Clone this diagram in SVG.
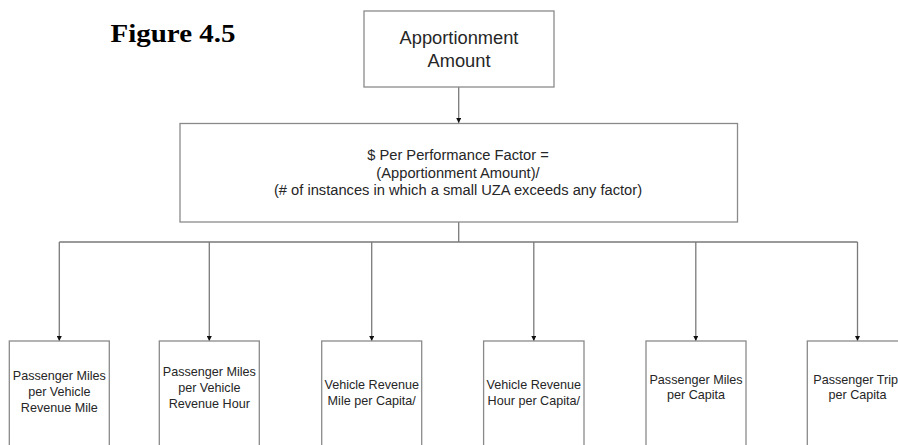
<svg xmlns="http://www.w3.org/2000/svg" width="898" height="445" viewBox="0 0 898 445">
<style>
.box{fill:#fff;stroke:#8a8a8a;stroke-width:1.3}
.t{font-family:"Liberation Sans",Arial,sans-serif;fill:#262626;text-anchor:middle}
.big{font-size:18.3px}
.mid{font-size:14.7px}
.sm{font-size:12.6px}
.ln{fill:none;stroke:#7a7a7a;stroke-width:1.3}
</style>
<defs>
<marker id="ah" viewBox="0 0 10 10" refX="10" refY="5" markerWidth="5" markerHeight="5" markerUnits="userSpaceOnUse" orient="auto">
<path d="M0,0 L10,5 L0,10 z" fill="#111"/>
</marker>
</defs>
<rect width="898" height="445" fill="#fff"/>
<text x="110.5" y="42" font-family="'Liberation Serif','Times New Roman',serif" font-weight="bold" font-size="26" textLength="125" lengthAdjust="spacingAndGlyphs" fill="#000">Figure 4.5</text>
<g id="connectors">
<path class="ln" d="M458.7,87 V123" marker-end="url(#ah)"/>
<path class="ln" d="M458.7,222 V242 M59.3,242 H857.5"/>
<path class="ln" d="M59.3,242 V341" marker-end="url(#ah)"/>
<path class="ln" d="M209.3,242 V341" marker-end="url(#ah)"/>
<path class="ln" d="M371.7,242 V341" marker-end="url(#ah)"/>
<path class="ln" d="M533.8,242 V341" marker-end="url(#ah)"/>
<path class="ln" d="M695.8,242 V341" marker-end="url(#ah)"/>
<path class="ln" d="M857.5,242 V341" marker-end="url(#ah)"/>
</g>
<g id="apportionment">
<rect class="box" x="364" y="11" width="190" height="76"/>
<text class="t big" x="459" y="44">Apportionment</text>
<text class="t big" x="459" y="67">Amount</text>
</g>
<g id="per-factor">
<rect class="box" x="180" y="123.5" width="557.5" height="98.5"/>
<text class="t mid" x="458" y="160">$ Per Performance Factor =</text>
<text class="t mid" x="458" y="177.5">(Apportionment Amount)/</text>
<text class="t mid" x="458" y="195">(# of instances in which a small UZA exceeds any factor)</text>
</g>
<g id="pm-vrm">
<rect class="box" x="9.3" y="341" width="100" height="110"/>
<text class="t sm" x="59.3" y="380">Passenger Miles</text>
<text class="t sm" x="59.3" y="396">per Vehicle</text>
<text class="t sm" x="59.3" y="412">Revenue Mile</text>
</g>
<g id="pm-vrh">
<rect class="box" x="159.3" y="341" width="100" height="110"/>
<text class="t sm" x="209.3" y="376">Passenger Miles</text>
<text class="t sm" x="209.3" y="392">per Vehicle</text>
<text class="t sm" x="209.3" y="408">Revenue Hour</text>
</g>
<g id="vrm-capita">
<rect class="box" x="321.7" y="341" width="100" height="110"/>
<text class="t sm" x="371.7" y="388.5">Vehicle Revenue</text>
<text class="t sm" x="371.7" y="404.5">Mile per Capita/</text>
</g>
<g id="vrh-capita">
<rect class="box" x="483.6" y="341" width="100.4" height="110"/>
<text class="t sm" x="533.8" y="388.5">Vehicle Revenue</text>
<text class="t sm" x="533.8" y="404.5">Hour per Capita/</text>
</g>
<g id="pm-capita">
<rect class="box" x="646" y="341" width="100" height="110"/>
<text class="t sm" x="696" y="383.5">Passenger Miles</text>
<text class="t sm" x="696" y="398.5">per Capita</text>
</g>
<g id="pt-capita">
<rect class="box" x="807.3" y="341" width="100" height="110"/>
<text class="t sm" x="813.3" y="383.5" style="text-anchor:start">Passenger Trip</text>
<text class="t sm" x="857.5" y="398.5">per Capita</text>
</g>
</svg>
